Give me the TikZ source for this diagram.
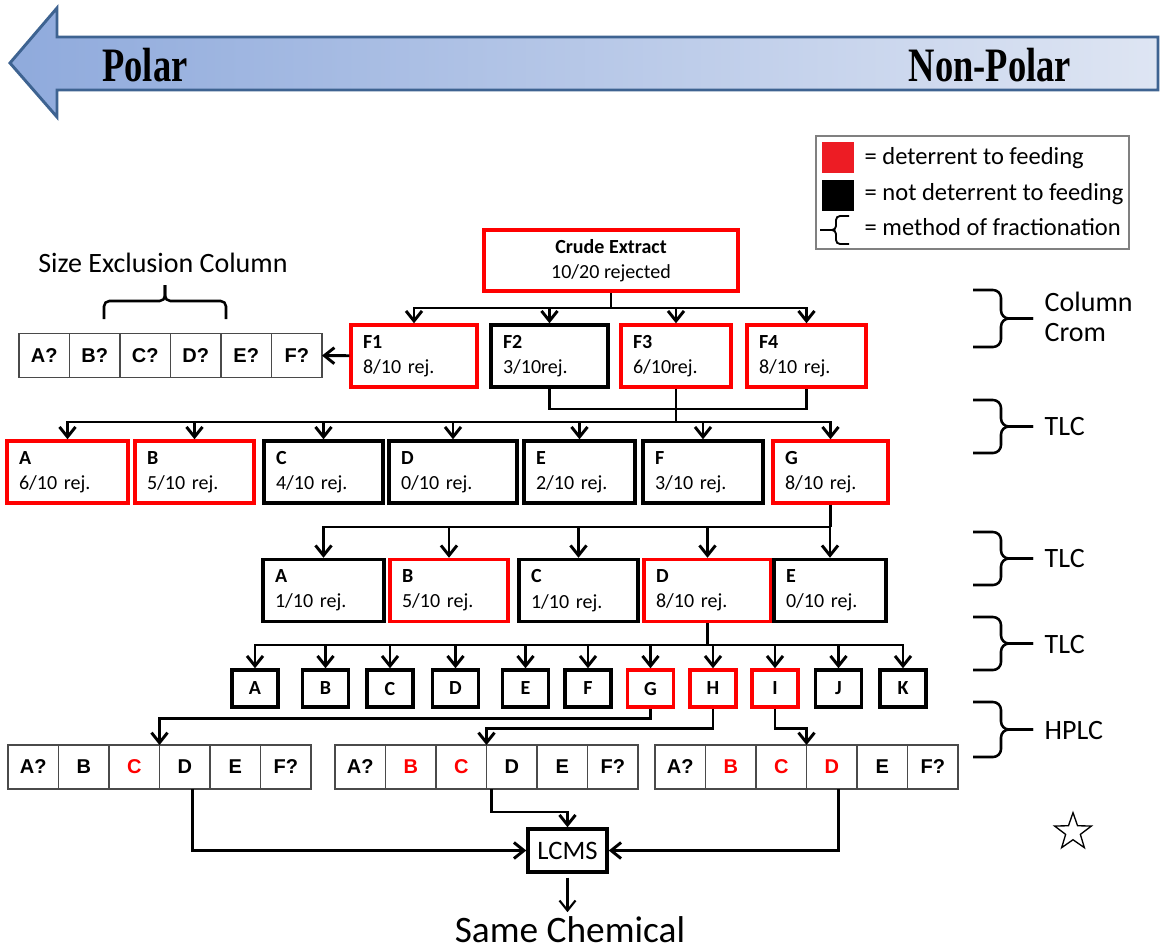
\documentclass[tikz,border=0pt]{standalone}
\usepackage{fontspec}
\setmainfont{Carlito}
\newfontfamily\cellfont{Liberation Sans}
\newfontfamily\titlefont{Liberation Serif}
\usepackage{xcolor}
\usepackage{tikz}
\usetikzlibrary{arrows.meta,positioning,shapes.geometric}
\definecolor{legred}{HTML}{ED1C24}
\definecolor{polarl}{HTML}{8FAADC}
\definecolor{polarr}{HTML}{DEE5F3}
\definecolor{polaredge}{HTML}{3E6391}
\definecolor{celledge}{HTML}{4A4A4A}

\begin{document}
\begin{tikzpicture}[x=0.75pt, y=-0.75pt, every node/.style={font=\fontsize{15}{19}\selectfont},
  frac/.style={rectangle, draw, line width=2.6pt, text width=#1, inner xsep=9pt, minimum height=46.5pt, align=left},
  fracred/.style={frac=#1, draw=red},
  letbox/.style={rectangle, draw, line width=2.6pt, minimum width=34.5pt, minimum height=27.75pt, inner sep=0pt, font=\fontsize{15}{15}\selectfont\bfseries},
  letred/.style={letbox, draw=red},
  cell/.style={rectangle, draw=celledge, line width=1.1pt, minimum width=37.875pt, minimum height=33pt, inner sep=0pt, outer sep=0pt, font=\cellfont\bfseries\fontsize{15}{15}\selectfont},
  arr/.style={line width=2.2pt, -{Straight Barb[length=7.5pt,width=12pt]}},
  link/.style={line width=2.2pt},
  lab/.style={anchor=west, align=left, font=\fontsize{21}{22}\selectfont},
  brc/.style={line width=1.9pt, rounded corners=6pt}]
\useasboundingbox (0,0) rectangle (1160,950);

% polarity arrow
\path[left color=polarl, right color=polarr, draw=polaredge, line width=2.2pt, line join=miter]
  (10,63) -- (57,8) -- (57,37) -- (1158,37) -- (1158,90) -- (57,90) -- (57,117) -- cycle;
\node[font=\titlefont\bfseries\fontsize{36}{36}\selectfont] (polar) at (145,65) {\scalebox{0.76}[1]{Polar}};
\node[font=\titlefont\bfseries\fontsize{36}{36}\selectfont] (nonpolar) at (990,65) {\scalebox{0.76}[1]{Non-Polar}};

% legend
\node[draw=gray, line width=1.1pt, minimum width=234.75pt, minimum height=84.75pt] (legend) at (972.5,192.5) {};
\node[fill=legred, minimum width=24pt, minimum height=23.25pt, inner sep=0pt] (kred) at (838,157.5) {};
\node[fill=black, minimum width=24pt, minimum height=23.25pt, inner sep=0pt] (kblk) at (838,195) {};
\draw[brc, line width=1.4pt, rounded corners=3pt] (849,216) -- (836,216) -- (836,230) -- (820,230);
\draw[brc, line width=1.4pt, rounded corners=3pt] (849,244) -- (836,244) -- (836,230) -- (820,230);
\node[anchor=west, font=\fontsize{18.4}{20}\selectfont] (kredtxt) at (860,158) {= deterrent to feeding};
\node[anchor=west, font=\fontsize{18.4}{20}\selectfont] (kblktxt) at (860,194) {= not deterrent to feeding};
\node[anchor=west, font=\fontsize{18.4}{20}\selectfont] (kbrctxt) at (860,227) {= method of fractionation};

% crude extract and column fractions
\node[draw=red, line width=2.6pt, minimum width=190.5pt, minimum height=45.75pt, align=center] (crude) at (611,260.5) {\textbf{Crude Extract}\\10/20 rejected};
\node[fracred=76.5pt] (f1) at (414,356) {\textbf{F1}\\8/10 rej.};
\node[frac=69.75pt] (f2) at (549.5,356) {\textbf{F2}\\3/10rej.};
\node[fracred=64.5pt] (f3) at (676,356) {\textbf{F3}\\6/10rej.};
\node[fracred=71.25pt] (f4) at (806.5,356) {\textbf{F4}\\8/10 rej.};

% size exclusion column
\node[font=\fontsize{21}{21}\selectfont] (sectitle) at (163,263) {Size Exclusion Column};
\draw[brc, rounded corners=4pt] (104,319) -- (104,301) -- (165,301) -- (165,285);
\draw[brc, rounded corners=4pt] (226,319) -- (226,301) -- (165,301) -- (165,285);
\node[cell] (sec1) at (44.25,355.5) {A?};
\node[cell, right=0pt of sec1] (sec2) {B?};
\node[cell, right=0pt of sec2] (sec3) {C?};
\node[cell, right=0pt of sec3] (sec4) {D?};
\node[cell, right=0pt of sec4] (sec5) {E?};
\node[cell, right=0pt of sec5] (sec6) {F?};

% first TLC
\node[fracred=72.75pt] (r1a) at (67.5,472) {\textbf{A}\\6/10 rej.};
\node[fracred=71.25pt] (r1b) at (194.5,472) {\textbf{B}\\5/10 rej.};
\node[frac=71.25pt] (r1c) at (323.5,472) {\textbf{C}\\4/10 rej.};
\node[frac=78pt] (r1d) at (453,472) {\textbf{D}\\0/10 rej.};
\node[frac=65.25pt] (r1e) at (579.5,472) {\textbf{E}\\2/10 rej.};
\node[frac=72pt] (r1f) at (703,472) {\textbf{F}\\3/10 rej.};
\node[fracred=68.25pt] (r1g) at (830.5,472) {\textbf{G}\\8/10 rej.};

% second TLC
\node[frac=72.75pt] (r2a) at (323.5,590.5) {\textbf{A}\\1/10 rej.};
\node[fracred=70.5pt] (r2b) at (449,590.5) {\textbf{B}\\5/10 rej.};
\node[frac=71.25pt] (r2c) at (578.5,590.5) {\textbf{C}\\1/10 rej.};
\node[fracred=77.25pt] (r2d) at (707.5,590.5) {\textbf{D}\\8/10 rej.};
\node[frac=66pt] (r2e) at (830,590.5) {\textbf{E}\\0/10 rej.};

% third TLC
\node[letbox] (r3a) at (255,688.5) {A};
\node[letbox] (r3b) at (325.5,688.5) {B};
\node[letbox] (r3c) at (390,688.5) {C};
\node[letbox] (r3d) at (455.5,688.5) {D};
\node[letbox] (r3e) at (525.5,688.5) {E};
\node[letbox] (r3f) at (588,688.5) {F};
\node[letred] (r3g) at (650.5,688.5) {G};
\node[letred] (r3h) at (713,688.5) {H};
\node[letred] (r3i) at (775,688.5) {I};
\node[letbox] (r3j) at (838.5,688.5) {J};
\node[letbox] (r3k) at (903,688.5) {K};

% HPLC tables
\node[cell] (t1a) at (33.25,767) {A?};
\node[cell, right=0pt of t1a] (t1b) {B};
\node[cell, right=0pt of t1b, text=red] (t1c) {C};
\node[cell, right=0pt of t1c] (t1d) {D};
\node[cell, right=0pt of t1d] (t1e) {E};
\node[cell, right=0pt of t1e] (t1f) {F?};
\node[cell] (t2a) at (360.25,767) {A?};
\node[cell, right=0pt of t2a, text=red] (t2b) {B};
\node[cell, right=0pt of t2b, text=red] (t2c) {C};
\node[cell, right=0pt of t2c] (t2d) {D};
\node[cell, right=0pt of t2d] (t2e) {E};
\node[cell, right=0pt of t2e] (t2f) {F?};
\node[cell] (t3a) at (680.25,767) {A?};
\node[cell, right=0pt of t3a, text=red] (t3b) {B};
\node[cell, right=0pt of t3b, text=red] (t3c) {C};
\node[cell, right=0pt of t3c, text=red] (t3d) {D};
\node[cell, right=0pt of t3d] (t3e) {E};
\node[cell, right=0pt of t3e] (t3f) {F?};

% LCMS
\node[draw, line width=2.6pt, minimum width=59.25pt, minimum height=32.25pt, inner sep=0pt, font=\fontsize{20}{20}\selectfont] (lcms) at (567.5,850.5) {LCMS};
\node[font=\fontsize{28}{28}\selectfont] (same) at (570,930) {Same Chemical};
\node[star, star points=5, star point ratio=2.5, draw, line width=1pt, minimum size=29pt, inner sep=0pt] (mark) at (1073,832) {};

% method braces
\draw[brc] (973,290) -- (1001,290) -- (1001,318.5) -- (1033,318.5);
\draw[brc] (973,347) -- (1001,347) -- (1001,318.5) -- (1033,318.5);
\node[lab] (ccrom) at (1040,317) {Column\\Crom};
\draw[brc] (973,400) -- (1001,400) -- (1001,426.5) -- (1033,426.5);
\draw[brc] (973,453) -- (1001,453) -- (1001,426.5) -- (1033,426.5);
\node[lab] (tlca) at (1040,427) {TLC};
\draw[brc] (973,532) -- (1001,532) -- (1001,558.5) -- (1033,558.5);
\draw[brc] (973,585) -- (1001,585) -- (1001,558.5) -- (1033,558.5);
\node[lab] (tlcb) at (1040,559) {TLC};
\draw[brc] (973,617) -- (1001,617) -- (1001,643.5) -- (1033,643.5);
\draw[brc] (973,670) -- (1001,670) -- (1001,643.5) -- (1033,643.5);
\node[lab] (tlcc) at (1040,644) {TLC};
\draw[brc] (973,702) -- (1001,702) -- (1001,729.5) -- (1033,729.5);
\draw[brc] (973,757) -- (1001,757) -- (1001,729.5) -- (1033,729.5);
\node[lab] (hplc) at (1040,730) {HPLC};

% connectors
\coordinate (fbus) at (611,308);
\draw[link] (crude) -- (fbus);
\draw[arr] (fbus) -| (f1);
\draw[arr] (fbus) -| (f2);
\draw[arr] (fbus) -| (f3);
\draw[arr] (fbus) -| (f4);
\draw[arr] (f1) -- (sec6);
\coordinate (gbus) at (676,409);
\coordinate (tbus) at (676,422);
\draw[link] (f2) |- (gbus) -| (f4);
\draw[link] (f3) -- (tbus);
\draw[arr] (tbus) -| (r1a);
\draw[arr] (tbus) -| (r1b);
\draw[arr] (tbus) -| (r1c);
\draw[arr] (tbus) -| (r1d);
\draw[arr] (tbus) -| (r1e);
\draw[arr] (tbus) -| (r1f);
\draw[arr] (tbus) -| (r1g);
\coordinate (ubus) at (830.5,527);
\draw[link] (r1g) -- (ubus);
\draw[arr] (ubus) -| (r2a);
\draw[arr] (ubus) -| (r2b);
\draw[arr] (ubus) -| (r2c);
\draw[arr] (ubus) -| (r2d);
\draw[arr] (ubus) -| (r2e);
\coordinate (vbus) at (707.5,645);
\draw[link] (r2d) -- (vbus);
\draw[arr] (vbus) -| (r3a);
\draw[arr] (vbus) -| (r3b);
\draw[arr] (vbus) -| (r3c);
\draw[arr] (vbus) -| (r3d);
\draw[arr] (vbus) -| (r3e);
\draw[arr] (vbus) -| (r3f);
\draw[arr] (vbus) -| (r3g);
\draw[arr] (vbus) -| (r3h);
\draw[arr] (vbus) -| (r3i);
\draw[arr] (vbus) -| (r3j);
\draw[arr] (vbus) -| (r3k);
\draw[arr] (r3g.south) -- ++(0,10) -| (t1c.north east);
\draw[arr] (r3h.south) -- ++(0,20) -| (t2c.north east);
\draw[arr] (r3i.south) -- ++(0,20) -| (t3c.north east);
\draw[arr] ([xshift=6pt]t1d.south) |- (lcms);
\draw[arr] ([xshift=-15pt]t2d.south) -- ++(0,23) -| (lcms);
\draw[arr] ([xshift=5pt]t3d.south) |- (lcms);
\draw[arr, line width=1.6pt, shorten <=3pt] (lcms) -- (lcms |- same.north);
\end{tikzpicture}
\end{document}
